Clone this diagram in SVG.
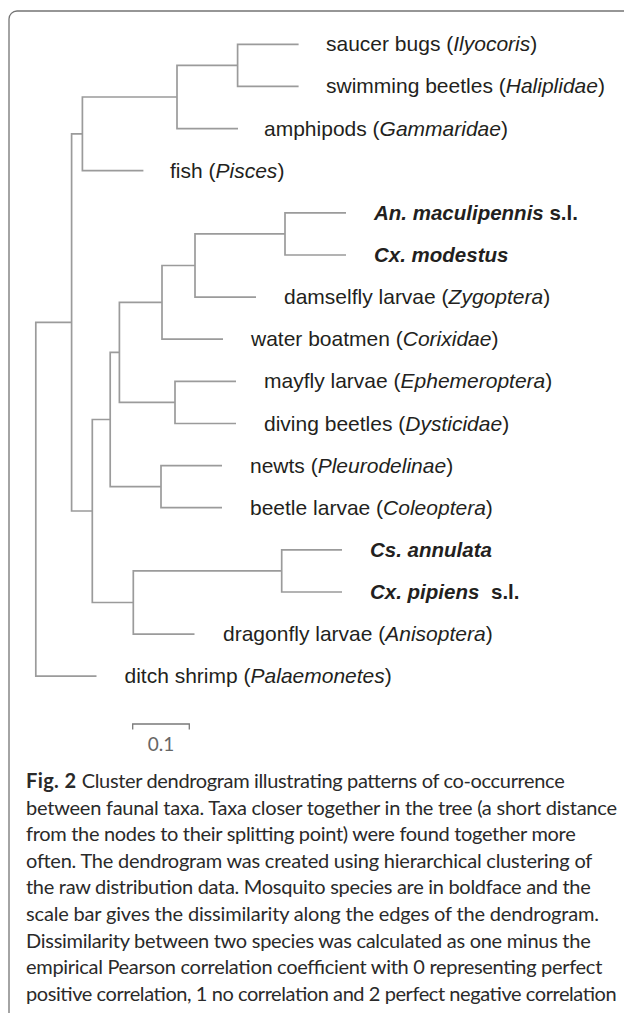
<svg xmlns="http://www.w3.org/2000/svg" width="624" height="1013" viewBox="0 0 624 1013">
<style>
.frame{fill:none;stroke:#747474;stroke-width:1.3}
.br{fill:none;stroke:#9b9b9b;stroke-width:1.7;stroke-linejoin:miter}
.lab{font-family:"Liberation Sans",Arial,sans-serif;font-size:21px;fill:#231f20}
.it{font-style:italic}
.mq{font-family:"Liberation Sans",Arial,sans-serif;font-size:20.5px;font-weight:bold;fill:#231f20}
.cap{font-family:Lato,"Open Sans",sans-serif;font-size:20px;fill:#2a2a2a}
.sc{fill:none;stroke:#7a7a7a;stroke-width:1.3}
</style>
<rect class="frame" x="9" y="11" width="700" height="1100" rx="8"/>
<g id="connectors">
<path class="br" d="M71.6,322.4 H35.8 V676.2 H96.5"/>
<path class="br" d="M82.4,133.8 H71.6 V511 H92.3"/>
<path class="br" d="M177,97 H82.4 V170.7 H143.4"/>
<path class="br" d="M237.6,65.35 H177 V128.6 H238"/>
<path class="br" d="M298.6,44.3 H237.6 V86.4 H298.6"/>
<path class="br" d="M110.2,419.5 H92.3 V602.5 H133.3"/>
<path class="br" d="M119.4,352.4 H110.2 V486.65 H161"/>
<path class="br" d="M162,302.35 H119.4 V402.4 H175"/>
<path class="br" d="M195,265.5 H162 V339.2 H223"/>
<path class="br" d="M285,233.9 H195 V297.1 H256"/>
<path class="br" d="M346,212.8 H285 V255 H346"/>
<path class="br" d="M236,381.3 H175 V423.5 H236"/>
<path class="br" d="M222,465.6 H161 V507.7 H222"/>
<path class="br" d="M281.7,570.95 H133.3 V634.1 H194.5"/>
<path class="br" d="M342,549.9 H281.7 V592 H342"/>
</g>
<g id="n-saucer"><text class="lab" x="326" y="51.3">saucer bugs (<tspan class="it">Ilyocoris</tspan>)</text></g>
<g id="n-swimming"><text class="lab" x="326" y="93.4">swimming beetles (<tspan class="it">Haliplidae</tspan>)</text></g>
<g id="n-amphipods"><text class="lab" x="264" y="135.6">amphipods (<tspan class="it">Gammaridae</tspan>)</text></g>
<g id="n-fish"><text class="lab" x="170" y="177.7">fish (<tspan class="it">Pisces</tspan>)</text></g>
<g id="n-anmac"><text class="mq" x="374" y="219.8"><tspan class="it">An. maculipennis</tspan> s.l.</text></g>
<g id="n-cxmod"><text class="mq" x="374" y="262"><tspan class="it">Cx. modestus</tspan></text></g>
<g id="n-damselfly"><text class="lab" x="284" y="304.1">damselfly larvae (<tspan class="it">Zygoptera</tspan>)</text></g>
<g id="n-waterboatmen"><text class="lab" x="251" y="346.2">water boatmen (<tspan class="it">Corixidae</tspan>)</text></g>
<g id="n-mayfly"><text class="lab" x="264" y="388.3">mayfly larvae (<tspan class="it">Ephemeroptera</tspan>)</text></g>
<g id="n-diving"><text class="lab" x="264" y="430.5">diving beetles (<tspan class="it">Dysticidae</tspan>)</text></g>
<g id="n-newts"><text class="lab" x="250" y="472.6">newts (<tspan class="it">Pleurodelinae</tspan>)</text></g>
<g id="n-beetlelarvae"><text class="lab" x="250" y="514.7">beetle larvae (<tspan class="it">Coleoptera</tspan>)</text></g>
<g id="n-csann"><text class="mq" x="370" y="556.9"><tspan class="it">Cs. annulata</tspan></text></g>
<g id="n-cxpip"><text class="mq" x="370" y="599"><tspan class="it">Cx. pipiens</tspan><tspan x="491">s.l.</tspan></text></g>
<g id="n-dragonfly"><text class="lab" x="223" y="641.1">dragonfly larvae (<tspan class="it">Anisoptera</tspan>)</text></g>
<g id="n-ditchshrimp"><text class="lab" x="124.5" y="683.2">ditch shrimp (<tspan class="it">Palaemonetes</tspan>)</text></g>
<g id="scale-bar">
<path class="sc" d="M132.7,729.5 V724 H189.3 V729.5"/>
<text x="161" y="751" text-anchor="middle" font-family="Lato,'Open Sans',sans-serif" font-size="19" fill="#666">0.1</text>
</g>
<g id="caption">
<text class="cap" x="26" y="788" font-weight="bold" textLength="50">Fig. 2</text>
<text class="cap" x="81.7" y="788" textLength="483">Cluster dendrogram illustrating patterns of co-occurrence</text>
<text class="cap" x="26" y="814.6" textLength="591">between faunal taxa. Taxa closer together in the tree (a short distance</text>
<text class="cap" x="26" y="841.2" textLength="549.7">from the nodes to their splitting point) were found together more</text>
<text class="cap" x="26" y="867.8" textLength="566.3">often. The dendrogram was created using hierarchical clustering of</text>
<text class="cap" x="26" y="894.4" textLength="564.7">the raw distribution data. Mosquito species are in boldface and the</text>
<text class="cap" x="26" y="921" textLength="573">scale bar gives the dissimilarity along the edges of the dendrogram.</text>
<text class="cap" x="26" y="947.6" textLength="564.7">Dissimilarity between two species was calculated as one minus the</text>
<text class="cap" x="26" y="974.2" textLength="576.3">empirical Pearson correlation coefficient with 0 representing perfect</text>
<text class="cap" x="26" y="1000.8" textLength="590.7">positive correlation, 1 no correlation and 2 perfect negative correlation</text>
</g>
</svg>
